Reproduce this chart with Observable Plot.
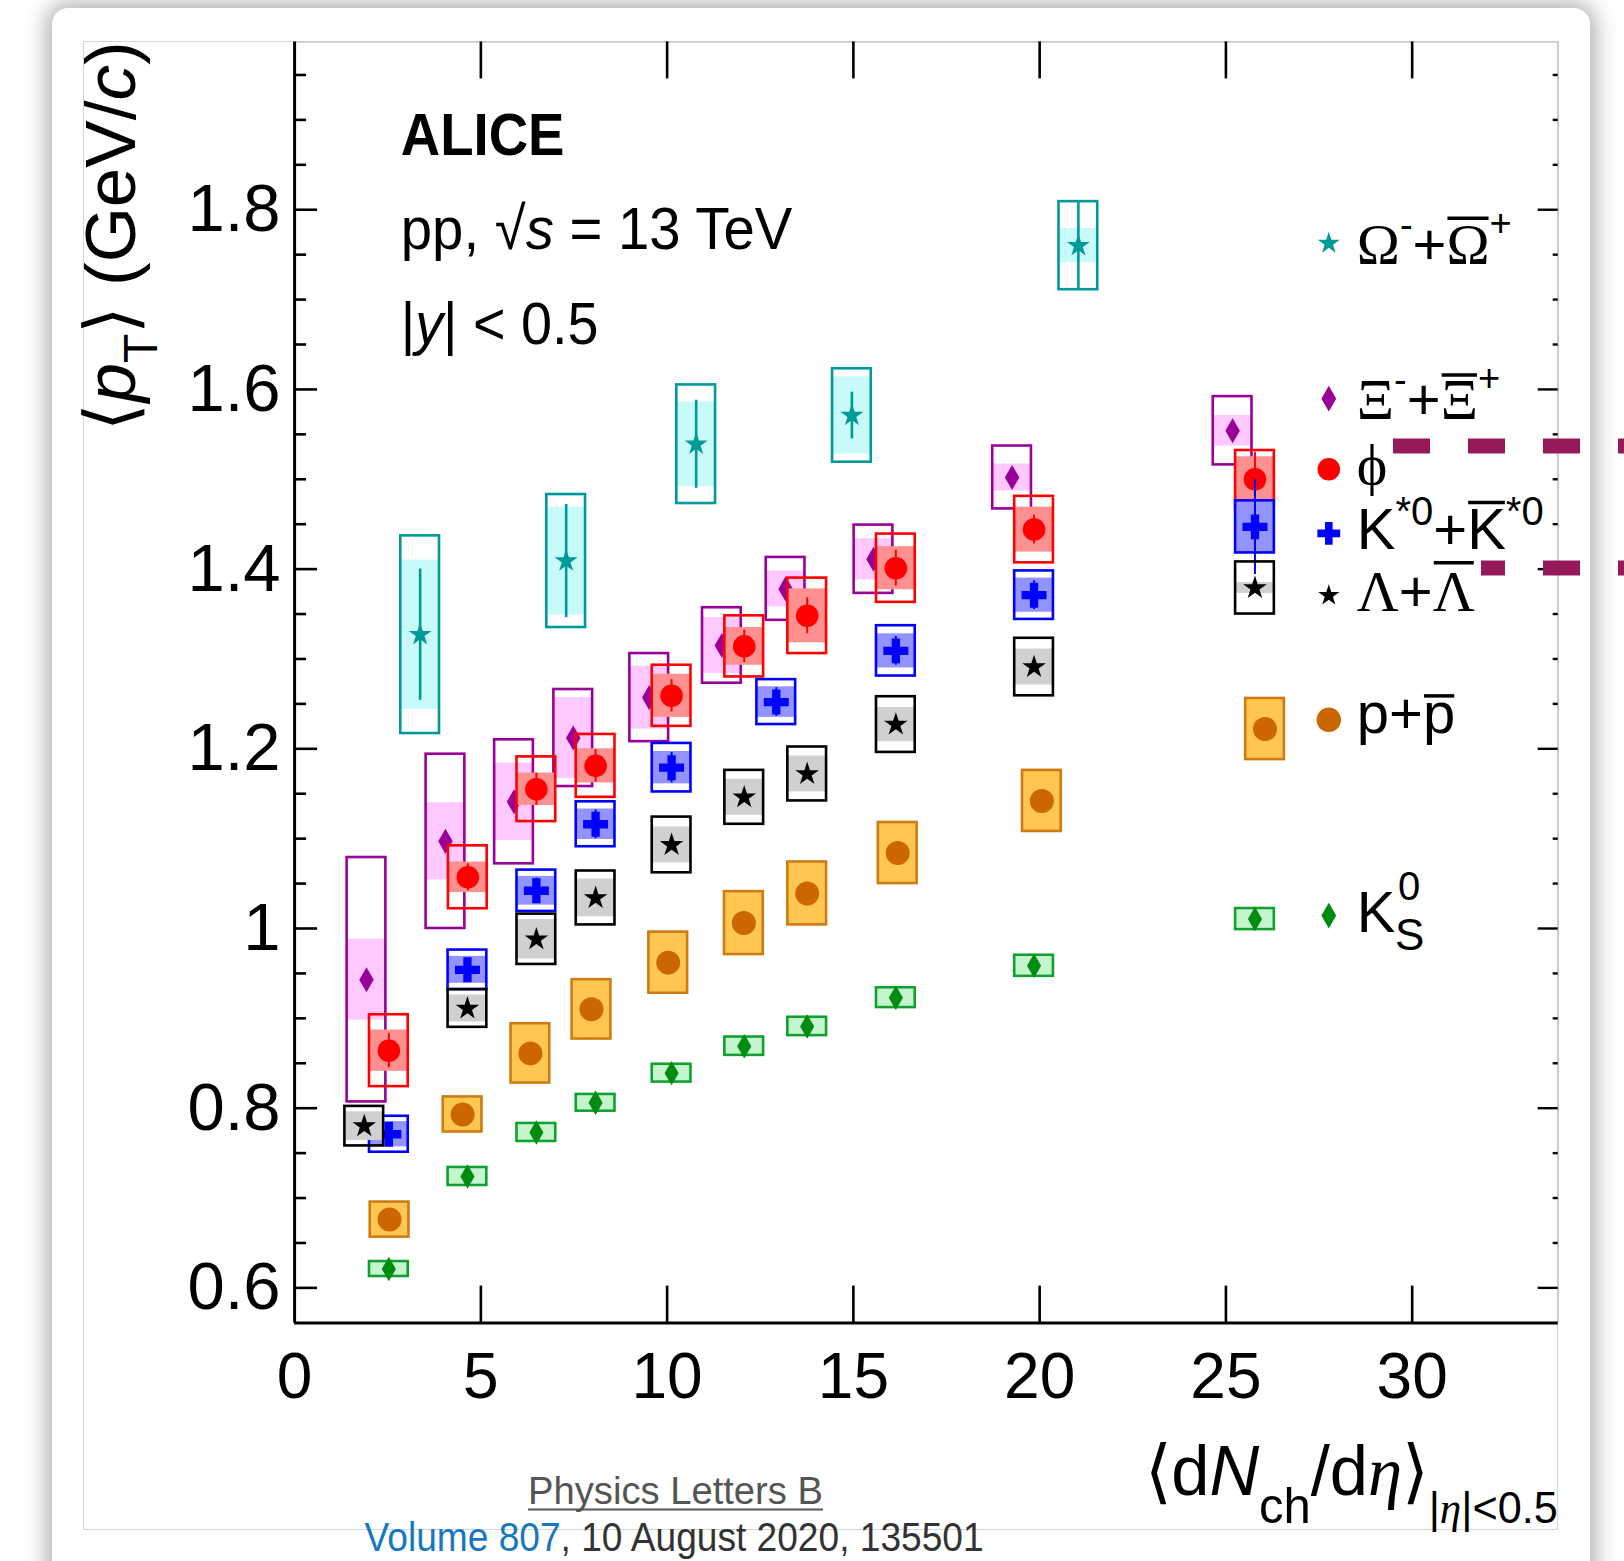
<!DOCTYPE html>
<html lang="en">
<head>
<meta charset="utf-8">
<title>Mean transverse momentum vs. charged-particle multiplicity, pp 13 TeV</title>
<script src="https://cdn.jsdelivr.net/npm/d3@7"></script>
<script src="https://cdn.jsdelivr.net/npm/@observablehq/plot@0.6"></script>
<style>
  html, body { margin: 0; padding: 0; background: #fff; }
  body { position: relative; width: 1624px; height: 1561px; overflow: hidden;
         font-family: "Liberation Sans", Arial, Helvetica, sans-serif; }
  #card { position: absolute; left: 52px; top: 8px; width: 1538px; height: 1640px;
          background: #fff; border-radius: 16px; box-shadow: 0 0 22px 5px rgba(0,0,0,0.33); }
  #frame { position: absolute; left: 83px; top: 41px; width: 1475px; height: 1489px;
           border: 1.5px solid #d4d4d4; box-sizing: border-box; }
  #chart { position: absolute; left: 0; top: 0; }
  #overlay { position: absolute; left: 0; top: 0; pointer-events: none; }
</style>
</head>
<body>
<div id="card"></div>
<div id="frame"></div>
<div id="chart"></div>
<svg id="overlay" width="1624" height="1561"></svg>
<script>
// <pT> of identified hadrons vs <dNch/deta>, pp collisions at 13 TeV.
// Per species: multiplicity, mean pT, statistical error,
// total systematic (open box), uncorrelated systematic (filled band).

const omegaMult = [3.37, 7.29, 10.78, 14.96, 21.04];
const omegaPt   = [1.327, 1.409, 1.539, 1.571, 1.760];
const omegaStat = [0.073, 0.063, 0.049, 0.026, 0.048];
const omegaSys  = [0.110, 0.074, 0.066, 0.052, 0.049];
const omegaSysU = [0.083, 0.060, 0.047, 0.043, 0.019];

const xiMult = [1.93, 4.05, 5.89, 7.48, 9.52, 11.47, 13.18, 15.54, 19.26, 25.18];
const xiPt   = [0.943, 1.097, 1.141, 1.212, 1.257, 1.315, 1.378, 1.411, 1.502, 1.554];
const xiStat = [0.010, 0.007, 0.006, 0.006, 0.006, 0.006, 0.006, 0.006, 0.007, 0.008];
const xiSys  = [0.136, 0.097, 0.069, 0.054, 0.049, 0.042, 0.035, 0.038, 0.035, 0.038];
const xiSysU = [0.045, 0.043, 0.043, 0.045, 0.035, 0.031, 0.020, 0.023, 0.015, 0.017];

const phiMult = [2.53, 4.65, 6.49, 8.08, 10.12, 12.07, 13.76, 16.14, 19.85, 25.78];
const phiPt   = [0.864, 1.057, 1.155, 1.181, 1.259, 1.314, 1.348, 1.401, 1.444, 1.500];
const phiStat = [0.019, 0.015, 0.018, 0.018, 0.018, 0.018, 0.020, 0.020, 0.016, 0.030];
const phiSys  = [0.040, 0.035, 0.036, 0.035, 0.034, 0.034, 0.042, 0.038, 0.037, 0.032];
const phiSysU = [0.023, 0.017, 0.018, 0.019, 0.024, 0.021, 0.030, 0.024, 0.025, 0.025];

const kstarMult = [2.53, 4.64, 6.49, 8.08, 10.12, 12.93, 16.14, 19.85, 25.78];
const kstarPt   = [0.771, 0.954, 1.042, 1.116, 1.179, 1.252, 1.309, 1.371, 1.447];
const kstarStat = [0.008, 0.012, 0.014, 0.016, 0.017, 0.016, 0.016, 0.016, 0.053];
const kstarSys  = [0.020, 0.022, 0.023, 0.025, 0.027, 0.025, 0.028, 0.027, 0.029];
const kstarSysU = [0.014, 0.015, 0.016, 0.017, 0.018, 0.017, 0.019, 0.019, 0.029];

const lambdaMult = [1.87, 4.64, 6.49, 8.08, 10.12, 12.07, 13.76, 16.14, 19.85, 25.78];
const lambdaPt   = [0.780, 0.911, 0.988, 1.034, 1.093, 1.146, 1.172, 1.227, 1.291, 1.379];
const lambdaStat = [0.004, 0.004, 0.004, 0.004, 0.004, 0.004, 0.004, 0.004, 0.004, 0.004];
const lambdaSys  = [0.022, 0.021, 0.028, 0.030, 0.031, 0.030, 0.030, 0.031, 0.032, 0.029];
const lambdaSysU = [0.016, 0.015, 0.022, 0.021, 0.020, 0.020, 0.020, 0.019, 0.020, 0.006];

const protonMult = [2.55, 4.51, 6.33, 7.97, 10.03, 12.06, 13.76, 16.19, 20.06, 26.05];
const protonPt   = [0.676, 0.793, 0.861, 0.910, 0.962, 1.006, 1.039, 1.084, 1.142, 1.222];
const protonStat = [0.002, 0.002, 0.002, 0.002, 0.002, 0.002, 0.002, 0.002, 0.002, 0.002];
const protonSys  = [0.0195, 0.0195, 0.033, 0.033, 0.034, 0.035, 0.035, 0.034, 0.034, 0.034];
const protonSysU = [0.0185, 0.0185, 0.032, 0.032, 0.033, 0.034, 0.034, 0.033, 0.033, 0.033];

const k0sMult = [2.53, 4.64, 6.49, 8.08, 10.12, 12.07, 13.76, 16.14, 19.85, 25.78];
const k0sPt   = [0.621, 0.724, 0.773, 0.806, 0.839, 0.869, 0.891, 0.923, 0.9585, 1.0105];
const k0sStat = [0.001, 0.001, 0.001, 0.001, 0.001, 0.001, 0.001, 0.001, 0.001, 0.001];
const k0sSys  = [0.0083, 0.010, 0.010, 0.0093, 0.0099, 0.0102, 0.0102, 0.011, 0.0117, 0.0117];
const k0sSysU = [0.0070, 0.0085, 0.0085, 0.0080, 0.0085, 0.0088, 0.0088, 0.0095, 0.0100, 0.0100];

const xTicks = [0, 5, 10, 15, 20, 25, 30];
const yTicks = [0.6, 0.8, 1.0, 1.2, 1.4, 1.6, 1.8];

// ---- layout ----
const W = 1624, H = 1540;
const mL = 294.1, mR = 66.3, mT = 41.4, mB = H - 1322.6;
const innerW = W - mL - mR, innerH = H - mT - mB;
const X_DOMAIN = [0, 33.92];
const Y_DOMAIN = [0.5608, 1.9868];
const BOX_HALF = 0.52;        // half-width of systematic boxes (multiplicity units)
const SANS = "Liberation Sans, Arial, Helvetica, sans-serif";
const SERIF = "Liberation Serif, Times New Roman, serif";

const series = [
  {x: omegaMult,  y: omegaPt,  stat: omegaStat,  sys: omegaSys,  sysU: omegaSysU,
   color: "#009999", fill: "#c8fafa", symbol: "star",    r: 7.2, statW: 2.6},
  {x: xiMult,     y: xiPt,     stat: xiStat,     sys: xiSys,     sysU: xiSysU,
   color: "#990099", fill: "#ffc8ff", symbol: "diamond", r: 7.6, statW: 2},
  {x: phiMult,    y: phiPt,    stat: phiStat,    sys: phiSys,    sysU: phiSysU,
   color: "#ff0000", fill: "#ff9090", symbol: "circle",  r: 11.3, statW: 2},
  {x: kstarMult,  y: kstarPt,  stat: kstarStat,  sys: kstarSys,  sysU: kstarSysU,
   color: "#0000ff", fill: "#9393ff", symbol: "cross",   r: 10.5, statW: 2},
  {x: lambdaMult, y: lambdaPt, stat: lambdaStat, sys: lambdaSys, sysU: lambdaSysU,
   color: "#000000", fill: "#d0d0d0", symbol: "star",    r: 7.4, statW: 2},
  {x: protonMult, y: protonPt, stat: protonStat, sys: protonSys, sysU: protonSysU,
   color: "#cc6600", fill: "#ffc652", symbol: "circle",  r: 12, statW: 2, stroke: "#d07a12"},
  {x: k0sMult,    y: k0sPt,    stat: k0sStat,    sys: k0sSys,    sysU: k0sSysU,
   color: "#008c10", fill: "#c4f5cc", symbol: "diamond", r: 7.4, statW: 2, stroke: "#10a030"}
];

const marks = [];
for (const s of series) {
  const rows = s.x.map((x, i) => ({x, y: s.y[i], stat: s.stat[i], sys: s.sys[i], sysU: s.sysU[i]}));
  marks.push(
    Plot.rect(rows, {x1: d => d.x - BOX_HALF, x2: d => d.x + BOX_HALF,
                     y1: d => d.y - d.sysU, y2: d => d.y + d.sysU, fill: s.fill}),
    Plot.rect(rows, {x1: d => d.x - BOX_HALF, x2: d => d.x + BOX_HALF,
                     y1: d => d.y - d.sys, y2: d => d.y + d.sys,
                     fill: "none", stroke: s.stroke || s.color, strokeWidth: 2.6}),
    Plot.ruleX(rows, {x: "x", y1: d => d.y - d.stat, y2: d => d.y + d.stat,
                      stroke: s.color, strokeWidth: s.statW}),
    Plot.dot(rows, {x: "x", y: "y", symbol: s.symbol, r: s.r, fill: s.color, stroke: "none"})
  );
}

const yMinor = d3.range(0.65, 1.99, 0.05).map(v => +v.toFixed(2))
  .filter(v => !yTicks.some(t => Math.abs(t - v) < 1e-6));
const xInner = xTicks.filter(t => t > 0);

const chart = Plot.plot({
  width: W, height: H,
  marginLeft: mL, marginRight: mR, marginTop: mT, marginBottom: mB,
  x: {domain: X_DOMAIN},
  y: {domain: Y_DOMAIN},
  style: {background: "transparent", color: "black", fontFamily: SANS, overflow: "visible"},
  marks: [
    ...marks,
    // frame
    Plot.ruleX([X_DOMAIN[1]], {stroke: "#c8c8c8", strokeWidth: 1.5}),
    Plot.ruleY([Y_DOMAIN[1]], {stroke: "#c8c8c8", strokeWidth: 1.5}),
    Plot.ruleX([X_DOMAIN[0]], {stroke: "black", strokeWidth: 3}),
    Plot.ruleY([Y_DOMAIN[0]], {stroke: "black", strokeWidth: 3}),
    // inward ticks
    Plot.ruleY(yTicks, {insetRight: innerW - 23, stroke: "black", strokeWidth: 2.6}),
    Plot.ruleY(yMinor, {insetRight: innerW - 12, stroke: "black", strokeWidth: 2.6}),
    Plot.ruleY(yTicks, {insetLeft: innerW - 20, stroke: "black", strokeWidth: 2.4}),
    Plot.ruleY(yMinor, {insetLeft: innerW - 5, stroke: "black", strokeWidth: 2.4}),
    Plot.ruleX(xInner, {insetTop: innerH - 37, stroke: "black", strokeWidth: 2.6}),
    Plot.ruleX(xInner, {insetBottom: innerH - 37, stroke: "black", strokeWidth: 2.6}),
    // tick labels
    Plot.axisY({ticks: yTicks, anchor: "left", tickSize: 0, tickPadding: 14, fontSize: 67,
                label: null, tickFormat: d => String(+d.toFixed(2))}),
    Plot.axisX({ticks: xTicks, anchor: "bottom", tickSize: 0, tickPadding: 29, fontSize: 64,
                label: null, tickFormat: d => String(d)})
  ]
});
document.getElementById("chart").appendChild(chart);

// ---- rich text (sub/superscripts, overbars drawn as lines) ----
function rich(parent, parts, attrs) {
  const t = parent.append("text").attr("fill", "black").attr("text-anchor", "start");
  for (const [k, v] of Object.entries(attrs)) t.attr(k, v);
  const baseSize = +attrs["font-size"];
  let dyAcc = 0;
  const bars = [];
  for (const p of parts) {
    const s = t.append("tspan").text(p.text);
    if (p.italic) s.attr("font-style", "italic");
    if (p.bold) s.attr("font-weight", "bold");
    if (p.size) s.attr("font-size", p.size);
    if (p.dy) { s.attr("dy", p.dy); dyAcc += p.dy; }
    if (p.family) s.attr("font-family", p.family);
    if (p.bar) bars.push({node: s.node(), dy: dyAcc, size: p.size || baseSize, h: p.bar});
  }
  for (const b of bars) {
    const n = b.node, len = n.getNumberOfChars();
    const x0 = n.getStartPositionOfChar(0).x;
    const x1 = n.getEndPositionOfChar(len - 1).x;
    const yb = +attrs.y + b.dy - b.h * b.size;
    parent.append("line")
      .attr("x1", x0 + 1).attr("x2", x1 - 1).attr("y1", yb).attr("y2", yb)
      .attr("stroke", "black").attr("stroke-width", 3.5);
  }
  return t;
}

const svg = d3.select(chart);
const g = svg.append("g");

// y-axis title
rich(g, [
  {text: "⟨"}, {text: "p", italic: true}, {text: "T", size: 48, dy: 22},
  {text: "⟩ (GeV/", dy: -22}, {text: "c", italic: true}, {text: ")"}
], {transform: "translate(134.6,41.4) rotate(-90)", "text-anchor": "end",
    "font-size": 71, "font-family": SANS});

// x-axis title
rich(g, [
  {text: "⟨d"}, {text: "N", italic: true}, {text: "ch", size: 50, dy: 28},
  {text: "/d", dy: -28}, {text: "η", italic: true, family: SERIF}, {text: "⟩"},
  {text: "|", size: 44, dy: 28}, {text: "η", size: 44, italic: true, family: SERIF},
  {text: "|<0.5", size: 44}
], {x: 1557.7, y: 1494.5, "text-anchor": "end", "font-size": 70, "font-family": SANS,
    textLength: 413, lengthAdjust: "spacingAndGlyphs"});

// experiment / system labels
rich(g, [{text: "ALICE", bold: true}],
  {x: 400.8, y: 155.4, "font-size": 60, "font-family": SANS, textLength: 163.6,
   lengthAdjust: "spacingAndGlyphs"});
rich(g, [{text: "pp, √"}, {text: "s", italic: true}, {text: " = 13 TeV"}],
  {x: 400.8, y: 248.6, "font-size": 60, "font-family": SANS, textLength: 391.5,
   lengthAdjust: "spacingAndGlyphs"});
rich(g, [{text: "|"}, {text: "y", italic: true}, {text: "| < 0.5"}],
  {x: 400.8, y: 343.8, "font-size": 60, "font-family": SANS, textLength: 197.7,
   lengthAdjust: "spacingAndGlyphs"});

// legend
const LEG_X = 1328.8, LEG_TX = 1356.8, LEG_FS = 58;
const legend = [
  {sym: d3.symbolStar, size: 150, color: "#009999", my: 243.4, ty: 264, parts: [
    {text: "Ω", family: SERIF}, {text: "-", size: 38, dy: -26}, {text: "+", dy: 26},
    {text: "Ω", family: SERIF, bar: 0.79}, {text: "+", size: 38, dy: -28}]},
  {sym: d3.symbolDiamond, size: 190, color: "#990099", my: 398.7, ty: 419, parts: [
    {text: "Ξ", family: SERIF}, {text: "-", size: 38, dy: -26}, {text: "+", dy: 26},
    {text: "Ξ", family: SERIF, bar: 0.76}, {text: "+", size: 38, dy: -28}]},
  {sym: d3.symbolCircle, size: 400, color: "#ff0000", my: 469.2, ty: 484, parts: [
    {text: "ϕ", family: SERIF}]},
  {sym: d3.symbolCross, size: 290, color: "#0000ff", my: 533.4, ty: 549, parts: [
    {text: "K"}, {text: "*0", size: 40, dy: -24}, {text: "+", dy: 24},
    {text: "K", bar: 0.80}, {text: "*0", size: 40, dy: -24}]},
  {sym: d3.symbolStar, size: 140, color: "#000000", my: 595.5, ty: 611, parts: [
    {text: "Λ", family: SERIF}, {text: "+"}, {text: "Λ", family: SERIF, bar: 0.83}]},
  {sym: d3.symbolCircle, size: 470, color: "#cc6600", my: 719.8, ty: 733, parts: [
    {text: "p"}, {text: "+"}, {text: "p", bar: 0.64}]},
  {sym: d3.symbolDiamond, size: 190, color: "#008c10", my: 915.6, ty: 932, parts: [
    {text: "K"}]}
];
for (const e of legend) {
  g.append("path")
    .attr("d", d3.symbol(e.sym, e.size)())
    .attr("transform", `translate(${LEG_X},${e.my})`)
    .attr("fill", e.color);
  rich(g, e.parts, {x: LEG_TX, y: e.ty, "font-size": LEG_FS, "font-family": SANS});
}
rich(g, [{text: "0"}], {x: 1398, y: 900, "font-size": 40, "font-family": SANS});
rich(g, [{text: "S"}], {x: 1395, y: 950, "font-size": 44, "font-family": SANS});

// ---- page overlay: journal reference and highlight dashes ----
const ov = d3.select("#overlay");
ov.append("text")
  .attr("x", 528).attr("y", 1504)
  .attr("font-size", 39).attr("font-family", SANS).attr("fill", "#555")
  .attr("textLength", 295).attr("lengthAdjust", "spacingAndGlyphs")
  .text("Physics Letters B");
ov.append("line").attr("x1", 528).attr("x2", 823).attr("y1", 1509.5).attr("y2", 1509.5)
  .attr("stroke", "#555").attr("stroke-width", 1.8);
const ref = ov.append("text")
  .attr("x", 364.6).attr("y", 1551)
  .attr("font-size", 40).attr("font-family", SANS).attr("fill", "#333")
  .attr("textLength", 619).attr("lengthAdjust", "spacingAndGlyphs");
ref.append("tspan").attr("fill", "#1679bf").text("Volume 807");
ref.append("tspan").text(", 10 August 2020, 135501");

ov.append("line").attr("x1", 1393).attr("x2", 1624).attr("y1", 446).attr("y2", 446)
  .attr("stroke", "#961a5a").attr("stroke-width", 15).attr("stroke-dasharray", "37 38");
ov.append("line").attr("x1", 1481).attr("x2", 1624).attr("y1", 568).attr("y2", 568)
  .attr("stroke", "#961a5a").attr("stroke-width", 15).attr("stroke-dasharray", "37 38")
  .attr("stroke-dashoffset", 13);
</script>
</body>
</html>
